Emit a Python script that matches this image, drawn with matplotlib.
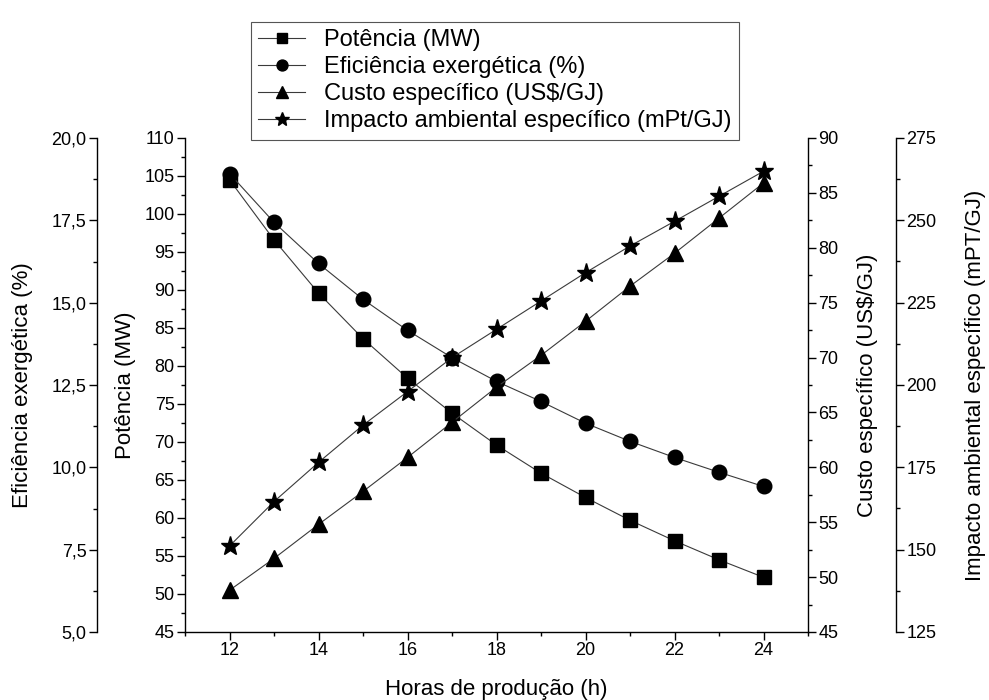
import numpy as np
import matplotlib.pyplot as plt
from matplotlib.ticker import MultipleLocator, FuncFormatter

plt.rcParams['font.family'] = ['Liberation Sans', 'DejaVu Sans']

# hours of production
horas = [12, 13, 14, 15, 16, 17, 18, 19, 20, 21, 22, 23, 24]

potencia = [104.5, 96.6, 89.6, 83.6, 78.4, 73.8, 69.6, 65.9, 62.7, 59.7, 57.0, 54.5, 52.2]
eficiencia = [18.92, 17.44, 16.19, 15.10, 14.16, 13.33, 12.61, 12.00, 11.34, 10.79, 10.30, 9.85, 9.42]
custo = [48.8, 51.7, 54.8, 57.8, 60.9, 64.1, 67.3, 70.2, 73.3, 76.5, 79.5, 82.7, 85.9]
impacto = [151.1, 164.6, 176.5, 187.8, 198.0, 208.3, 216.9, 225.5, 234.1, 242.2, 249.7, 257.3, 264.9]

W, H = 989, 700
fig = plt.figure(figsize=(W / 100, H / 100), dpi=100)
ax = fig.add_axes([185 / W, 1 - 632 / H, (808 - 185) / W, (632 - 138) / H])

ax_ef = ax.twinx()
ax_c = ax.twinx()
ax_i = ax.twinx()

line_kw = dict(color='#3a3a3a', lw=0.8, markerfacecolor='black', markeredgecolor='black')
l1, = ax.plot(horas, potencia, marker='s', ms=9.5, **line_kw)
l2, = ax_ef.plot(horas, eficiencia, marker='o', ms=10.5, **line_kw)
l3, = ax_c.plot(horas, custo, marker='^', ms=11, **line_kw)
l4, = ax_i.plot(horas, impacto, marker='*', ms=14, **line_kw)

ax.set_xlim(11, 25)
ax.set_ylim(45, 110)
ax_ef.set_ylim(5, 20)
ax_c.set_ylim(45, 90)
ax_i.set_ylim(125, 275)

out_pt = 88 * 0.72

# main axis: potencia on the left
ax.spines['top'].set_visible(False)
ax.spines['right'].set_visible(False)

# eficiencia: outer left axis
ax_ef.yaxis.tick_left()
ax_ef.yaxis.set_label_position('left')
ax_ef.spines['left'].set_position(('outward', out_pt))
for s in ['top', 'right', 'bottom']:
    ax_ef.spines[s].set_visible(False)

# custo: inner right axis
for s in ['top', 'left', 'bottom']:
    ax_c.spines[s].set_visible(False)

# impacto: outer right axis
ax_i.spines['right'].set_position(('outward', out_pt))
for s in ['top', 'left', 'bottom']:
    ax_i.spines[s].set_visible(False)

ax.xaxis.set_major_locator(MultipleLocator(2))
ax.xaxis.set_minor_locator(MultipleLocator(1))
ax.yaxis.set_major_locator(MultipleLocator(5))
ax.yaxis.set_minor_locator(MultipleLocator(2.5))
ax_ef.yaxis.set_major_locator(MultipleLocator(2.5))
ax_ef.yaxis.set_minor_locator(MultipleLocator(1.25))
ax_ef.yaxis.set_major_formatter(FuncFormatter(lambda v, p: f"{v:.1f}".replace('.', ',')))
ax_c.yaxis.set_major_locator(MultipleLocator(5))
ax_c.yaxis.set_minor_locator(MultipleLocator(2.5))
ax_i.yaxis.set_major_locator(MultipleLocator(25))
ax_i.yaxis.set_minor_locator(MultipleLocator(12.5))

for a in [ax, ax_ef, ax_c, ax_i]:
    for s in a.spines.values():
        s.set_linewidth(1.0)
    a.tick_params(which='major', direction='out', length=5.5, width=1.0, labelsize=13, pad=2)
    a.tick_params(which='minor', direction='out', length=3, width=1.0)

lab_fs = 16
ax.set_xlabel('Horas de produção (h)', fontsize=lab_fs)
ax.set_ylabel('Potência (MW)', fontsize=lab_fs)
ax_ef.set_ylabel('Eficiência exergética (%)', fontsize=lab_fs)
ax_c.set_ylabel('Custo específico (US$/GJ)', fontsize=lab_fs)
ax_i.set_ylabel('Impacto ambiental específico (mPT/GJ)', fontsize=lab_fs)

aw = 808 - 185
ah = 632 - 138
for a, xl in [(ax, 125), (ax_ef, 22), (ax_c, 868), (ax_i, 975)]:
    a.yaxis.label.set_va('center')
    a.yaxis.set_label_coords((xl - 185) / aw, 0.5)
ax.xaxis.label.set_va('center')
ax.xaxis.set_label_coords(0.5, (632 - 690) / ah)

leg = fig.legend([l1, l2, l3, l4],
                 ['Potência (MW)', 'Eficiência exergética (%)',
                  'Custo específico (US$/GJ)', 'Impacto ambiental específico (mPt/GJ)'],
                 loc='upper center', bbox_to_anchor=(495 / W, 1 - 10 / H),
                 fontsize=17, numpoints=1, handlelength=2.0, handletextpad=0.8,
                 labelspacing=0.21, borderpad=0.32, fancybox=False, framealpha=1,
                 edgecolor='#555555', markerscale=0.75)
leg.get_frame().set_linewidth(0.8)

fig.savefig('out.png', dpi=100)
